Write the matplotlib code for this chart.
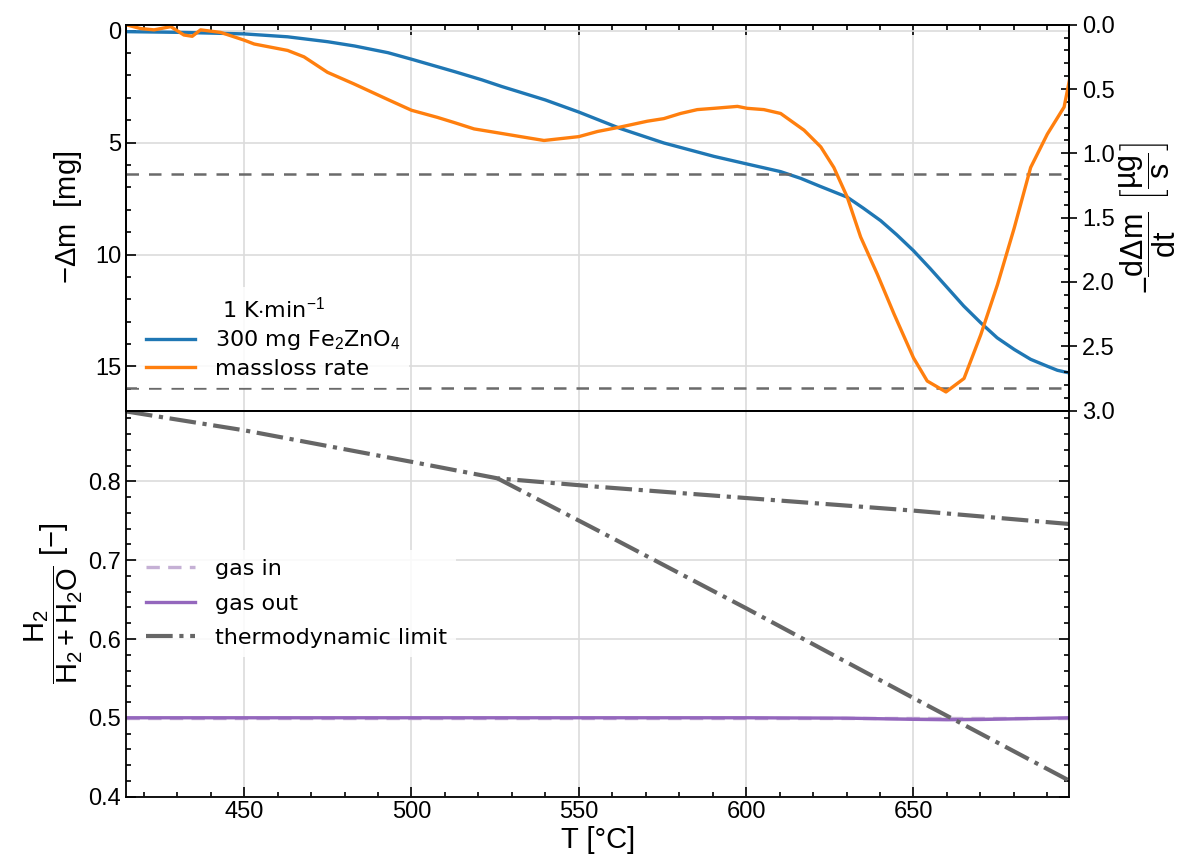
import matplotlib
matplotlib.use("Agg")
import matplotlib.pyplot as plt
from matplotlib.ticker import MultipleLocator, FormatStrFormatter

plt.rcParams['font.family'] = ['Liberation Sans', 'DejaVu Sans']
plt.rcParams['mathtext.fontset'] = 'custom'
plt.rcParams['mathtext.rm'] = 'Liberation Sans'
plt.rcParams['mathtext.it'] = 'Liberation Sans:italic'
plt.rcParams['mathtext.bf'] = 'Liberation Sans:bold'

# --- thermogravimetry (top panel) ---
T_mass = [414.7, 430, 450, 463, 475, 483, 493, 500, 513, 521, 527, 540, 550,
          562.5, 575.4, 590.4, 600, 610.3, 616.3, 622, 630.2, 635, 640.2, 645,
          650, 655, 660.1, 665, 670.1, 675, 680.1, 685, 690, 693, 696.6]
mass_loss = [0.05, 0.08, 0.15, 0.28, 0.5, 0.69, 0.99, 1.28, 1.84, 2.2, 2.5,
             3.1, 3.64, 4.38, 5.02, 5.62, 5.95, 6.3, 6.6, 6.95, 7.44, 7.93,
             8.49, 9.12, 9.83, 10.63, 11.48, 12.3, 13.05, 13.72, 14.24, 14.68,
             14.99, 15.17, 15.29]

T_rate = [414.7, 419.1, 423.1, 428.1, 432.0, 434.5, 437.0, 443.0, 450, 453,
          459, 463, 467.9, 474.9, 482.8, 492.8, 500, 507.7, 512.7, 518.7,
          525.7, 532.6, 539.6, 550, 555.6, 562.5, 570.5, 575.4, 580.4, 585.4,
          590.4, 597.4, 600.3, 605.3, 610.3, 617.3, 622.3, 626.2, 630.2,
          634.2, 639.2, 644.2, 650, 654.1, 659.7, 665.1, 670.1, 675.1, 680.1,
          685.0, 690.0, 695.0, 696.6]
rate = [0.00, 0.03, 0.04, 0.015, 0.08, 0.09, 0.04, 0.06, 0.12, 0.15, 0.18,
        0.20, 0.25, 0.37, 0.46, 0.58, 0.665, 0.72, 0.76, 0.81, 0.84, 0.87,
        0.90, 0.87, 0.83, 0.795, 0.75, 0.73, 0.69, 0.66, 0.65, 0.635, 0.65,
        0.66, 0.69, 0.82, 0.95, 1.11, 1.34, 1.65, 1.94, 2.25, 2.59, 2.77,
        2.855, 2.75, 2.41, 2.02, 1.58, 1.11, 0.85, 0.64, 0.43]

rate_marks = [1.157, 2.824]

# --- gas composition (bottom panel) ---
T_gas = [414.7, 600, 630, 650, 660, 670, 685, 696.6]
gas_in = [0.5, 0.5, 0.5, 0.5, 0.5, 0.5, 0.5, 0.5]
gas_out = [0.5, 0.5, 0.4995, 0.498, 0.4975, 0.4978, 0.499, 0.5]

T_lim_a = [414.7, 450, 500, 525.7, 556.5, 600, 650, 696.6]
lim_a = [0.889, 0.865, 0.825, 0.804, 0.793, 0.779, 0.763, 0.746]
T_lim_b = [525.7, 556.5, 600, 650, 696.6]
lim_b = [0.804, 0.736, 0.639, 0.525, 0.42]

xlim = (414.7, 696.6)
grid_kw = dict(color='#dcdcdc', lw=1.2)
leg_kw = dict(frameon=True, framealpha=0.85, edgecolor='none', fancybox=False,
              handlelength=2.2, handletextpad=0.9,
              prop={'family': 'DejaVu Sans', 'size': 16})

fig, (ax1, ax3) = plt.subplots(2, 1, figsize=(11.94, 8.67), dpi=100, sharex=True)
fig.subplots_adjust(left=0.1055, right=0.8957, top=0.9715, bottom=0.0813, hspace=0)


def style(ax):
    ax.tick_params(which='both', direction='in', labelsize=17, width=1.2)
    ax.tick_params(which='major', length=7)
    ax.tick_params(which='minor', length=3.5)
    for s in ax.spines.values():
        s.set_linewidth(1.3)


# top panel: mass loss (left) and its rate (right)
ax1.plot(T_mass, mass_loss, color='#1f77b4', lw=2.4, label=r'300 mg Fe$_2$ZnO$_4$')
ax1.set_xlim(*xlim)
ax1.set_ylim(16.97, -0.26)
ax1.yaxis.set_major_locator(MultipleLocator(5))
ax1.yaxis.set_minor_locator(MultipleLocator(1))
ax1.xaxis.set_major_locator(MultipleLocator(50))
ax1.xaxis.set_minor_locator(MultipleLocator(10))
ax1.grid(True, which='major', **grid_kw)
ax1.set_axisbelow(True)
style(ax1)
ax1.tick_params(which='both', top=True, bottom=False, right=False, labelbottom=False)
ax1.set_ylabel(r'$-\Delta\mathrm{m}\ \ [\mathrm{mg}]$', fontsize=21, labelpad=8)

ax2 = ax1.twinx()
for v in rate_marks:
    ax2.axhline(v, color='#6a6a6a', lw=1.8, ls=(0, (5, 4)))
ax2.plot(T_rate, rate, color='#ff7f0e', lw=2.4, label='massloss rate')
ax2.set_ylim(3.0, 0.0)
ax2.yaxis.set_major_locator(MultipleLocator(0.5))
ax2.yaxis.set_minor_locator(MultipleLocator(0.1))
style(ax2)
ax2.tick_params(which='major', direction='inout', length=11)
ax2.tick_params(which='minor', direction='in', length=3.5)
ax2.yaxis.set_major_formatter(FormatStrFormatter('%.1f'))
ax2.set_ylabel(r'$-\dfrac{\mathrm{d\Delta m}}{\mathrm{dt}}\ \left[\dfrac{\mathrm{µg}}{\mathrm{s}}\right]$',
               fontsize=22, labelpad=2)

h1, l1 = ax1.get_legend_handles_labels()
h2, l2 = ax2.get_legend_handles_labels()
leg = ax2.legend(h1 + h2, l1 + l2, loc='lower left', bbox_to_anchor=(0.0, 0.03),
                 title=r'1 K$\cdot$min$^{-1}$', title_fontsize=16,
                 labelspacing=0.3, **leg_kw)
leg.get_title().set_family('DejaVu Sans')

# bottom panel: H2 fraction of the gas
ax3.plot(T_gas, gas_in, color='#c5b0d5', lw=2.4, ls=(0, (4, 2.5)), label='gas in')
ax3.plot(T_gas, gas_out, color='#9467bd', lw=2.4, label='gas out')
ax3.plot(T_lim_a, lim_a, color='#666666', lw=3, ls='-.', label='thermodynamic limit')
ax3.plot(T_lim_b, lim_b, color='#666666', lw=3, ls='-.')
ax3.set_ylim(0.4, 0.89)
ax3.yaxis.set_major_locator(MultipleLocator(0.1))
ax3.yaxis.set_minor_locator(MultipleLocator(0.02))
ax3.grid(True, which='major', **grid_kw)
ax3.set_axisbelow(True)
style(ax3)
ax3.tick_params(which='both', top=False, bottom=True, right=True)
ax3.set_xlabel(r'T [°C]', fontsize=21, labelpad=2)
ax3.set_ylabel(r'$\dfrac{\mathrm{H_2}}{\mathrm{H_2+H_2O}}\ [-]$', fontsize=21, labelpad=2)
ax3.legend(loc='center left', bbox_to_anchor=(0.0, 0.5), labelspacing=0.65, **leg_kw)

fig.savefig('out.png', dpi=100)
